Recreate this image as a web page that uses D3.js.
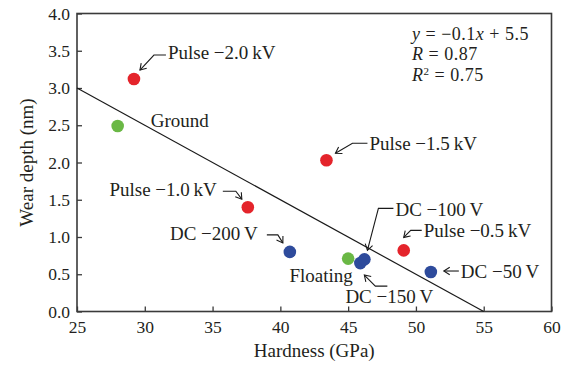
<!DOCTYPE html>
<html>
<head>
<meta charset="utf-8">
<script src="https://cdn.jsdelivr.net/npm/d3@7"></script>
<style>
  html, body { margin: 0; padding: 0; background: #fff; }
  svg text { font-family: "Liberation Serif", "Times New Roman", serif; fill: #231f20; }
</style>
</head>
<body>
<svg id="chart" width="567" height="367"></svg>
<script>
// Samples: coating condition, hardness (GPa) and wear depth (nm)
const sampleNames = ["Pulse \u22122.0\u2009kV", "Ground", "Pulse \u22121.5\u2009kV", "Pulse \u22121.0\u2009kV",
  "DC \u2212200\u2009V", "Floating", "DC \u2212150\u2009V", "DC \u2212100\u2009V", "Pulse \u22120.5\u2009kV", "DC \u221250\u2009V"];
const hardness = [29.2, 28.0, 43.4, 37.6, 40.7, 45.0, 45.9, 46.2, 49.1, 51.1];
const wearDepth = [3.12, 2.49, 2.03, 1.40, 0.80, 0.71, 0.65, 0.70, 0.82, 0.53];
const biasType = ["pulse", "none", "pulse", "pulse", "dc", "none", "dc", "dc", "pulse", "dc"];

// Linear fit y = slope * x + intercept
const fitSlope = -0.1;
const fitIntercept = 5.5;
const fitRange = [25, 55];

const xTicks = [25, 30, 35, 40, 45, 50, 55, 60];
const yTicks = [0, 0.5, 1.0, 1.5, 2.0, 2.5, 3.0, 3.5, 4.0];

// Label placement, in pixels from each marker; arrow runs from the text to the tip
const labelLayout = {
  "Pulse \u22122.0\u2009kV": { dx: 34, dy: -27, anchor: "start", arrow: [[32, -24], [20, -24], [6, -9]] },
  "Ground": { dx: 33, dy: -6, anchor: "start" },
  "Pulse \u22121.5\u2009kV": { dx: 43, dy: -17, anchor: "start", arrow: [[41, -17], [26, -17], [9, -7]] },
  "Pulse \u22121.0\u2009kV": { dx: -31, dy: -18, anchor: "end", arrow: [[-25, -16], [-12, -16], [-6, -8]] },
  "DC \u2212200\u2009V": { dx: -32, dy: -19, anchor: "end", arrow: [[-23, -17], [-12, -17], [-7, -9]] },
  "Floating": { dx: -27, dy: 17, anchor: "middle" },
  "DC \u2212150\u2009V": { dx: 29, dy: 33, anchor: "middle", arrow: [[27, 23], [15, 23], [4, 12]] },
  "DC \u2212100\u2009V": { dx: 31, dy: -50, anchor: "start", arrow: [[29, -51], [14, -51], [3, -9]] },
  "Pulse \u22120.5\u2009kV": { dx: 20, dy: -20, anchor: "start", arrow: [[18, -20], [7, -20], [0, -13]] },
  "DC \u221250\u2009V": { dx: 30, dy: -1, anchor: "start", arrow: [[28, -1], [13, -1]] }
};

const colors = { pulse: "#e4242b", dc: "#2e4b9c", none: "#6ab845" };

const svg = d3.select("#chart");
const plot = { left: 77, right: 551.5, top: 13.5, bottom: 311.5 };

const x = d3.scaleLinear().domain([25, 60]).range([plot.left, plot.right]);
const y = d3.scaleLinear().domain([0, 4]).range([plot.bottom, plot.top]);

// Axes with inward ticks
const xAxis = svg.append("g")
  .attr("transform", `translate(0,${plot.bottom})`)
  .call(d3.axisBottom(x).tickValues(xTicks).tickSizeInner(-5).tickSizeOuter(0).tickPadding(9.5).tickFormat(d3.format("d")));
const yAxis = svg.append("g")
  .attr("transform", `translate(${plot.left},0)`)
  .call(d3.axisLeft(y).tickValues(yTicks).tickSizeInner(-5).tickSizeOuter(0).tickPadding(7).tickFormat(d3.format(".1f")));

[xAxis, yAxis].forEach(g => {
  g.select(".domain").remove();
  g.selectAll(".tick line").attr("stroke", "#3a3a3a").attr("stroke-width", 1.3);
  g.selectAll(".tick text").style("font-size", "17.5px").attr("fill", "#231f20");
});

// Plot frame
svg.append("rect")
  .attr("x", plot.left).attr("y", plot.top)
  .attr("width", plot.right - plot.left).attr("height", plot.bottom - plot.top)
  .attr("fill", "none").attr("stroke", "#3a3a3a").attr("stroke-width", 1.6);

// Axis titles
svg.append("text")
  .attr("x", (plot.left + plot.right) / 2).attr("y", 357)
  .attr("text-anchor", "middle").style("font-size", "19px")
  .text("Hardness (GPa)");
svg.append("text")
  .attr("transform", `translate(33,${(plot.top + plot.bottom) / 2}) rotate(-90)`)
  .attr("text-anchor", "middle").style("font-size", "19px")
  .text("Wear depth (nm)");

// Regression line
svg.append("line")
  .attr("x1", x(fitRange[0])).attr("y1", y(fitSlope * fitRange[0] + fitIntercept))
  .attr("x2", x(fitRange[1])).attr("y2", y(fitSlope * fitRange[1] + fitIntercept))
  .attr("stroke", "#1a1a1a").attr("stroke-width", 1.2);

// Fit statistics, three lines in one text block
const eq = svg.append("text").attr("x", 412).attr("y", 39.5)
  .style("font-size", "18px").style("letter-spacing", "0.5px");
eq.append("tspan").style("font-style", "italic").text("y");
eq.append("tspan").text(" = \u22120.1");
eq.append("tspan").style("font-style", "italic").text("x");
eq.append("tspan").text(" + 5.5");
eq.append("tspan").attr("x", 412).attr("dy", 20.5).style("font-style", "italic").text("R");
eq.append("tspan").text(" = 0.87");
eq.append("tspan").attr("x", 412).attr("dy", 20.5).style("font-style", "italic").text("R");
eq.append("tspan").attr("dy", -6).style("font-size", "11px").text("2");
eq.append("tspan").attr("dy", 6).text(" = 0.75");

// Data markers
const samples = sampleNames.map((name, i) => ({ name, h: hardness[i], w: wearDepth[i], type: biasType[i] }));
svg.append("g").selectAll("circle")
  .data(samples)
  .join("circle")
  .attr("cx", d => x(d.h)).attr("cy", d => y(d.w))
  .attr("r", 6.3)
  .attr("fill", d => colors[d.type]);

// Labels and leader arrows
const labels = svg.append("g");
samples.forEach(d => {
  const lay = labelLayout[d.name];
  const px = x(d.h), py = y(d.w);
  labels.append("text")
    .attr("x", px + lay.dx).attr("y", py + lay.dy)
    .attr("dy", "0.35em")
    .attr("text-anchor", lay.anchor)
    .style("font-size", "19px")
    .text(d.name);
  if (lay.arrow) {
    const pts = lay.arrow.map(([ax, ay]) => [px + ax, py + ay]);
    labels.append("path")
      .attr("d", d3.line()(pts))
      .attr("fill", "none").attr("stroke", "#1a1a1a").attr("stroke-width", 1.1);
    const [tx, ty] = pts[pts.length - 1];
    const [sx, sy] = pts[pts.length - 2];
    const ang = Math.atan2(ty - sy, tx - sx);
    const len = 7, spread = Math.PI / 5.5;
    const head = [
      [tx - len * Math.cos(ang - spread), ty - len * Math.sin(ang - spread)],
      [tx, ty],
      [tx - len * Math.cos(ang + spread), ty - len * Math.sin(ang + spread)]
    ];
    labels.append("path")
      .attr("d", d3.line()(head))
      .attr("fill", "none").attr("stroke", "#1a1a1a").attr("stroke-width", 1.1);
  }
});
</script>
</body>
</html>
